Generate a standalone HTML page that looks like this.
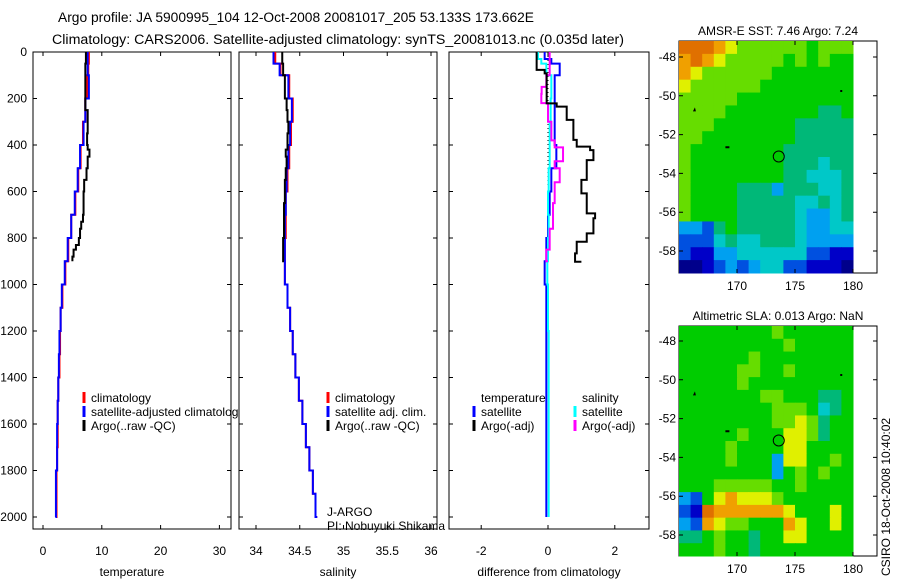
<!DOCTYPE html>
<html><head><meta charset="utf-8"><style>
html,body{margin:0;padding:0;background:#fff;}
svg{display:block;font-family:"Liberation Sans",sans-serif;}
</style></head><body>
<svg id="fig" width="900" height="580" viewBox="0 0 900 580" xmlns="http://www.w3.org/2000/svg">
<text x="58" y="22" font-size="13.5" textLength="476" lengthAdjust="spacingAndGlyphs">Argo profile: JA 5900995_104 12-Oct-2008 20081017_205 53.133S 173.662E</text>
<text x="52" y="44" font-size="13.5" textLength="572" lengthAdjust="spacingAndGlyphs">Climatology: CARS2006. Satellite-adjusted climatology: synTS_20081013.nc (0.035d later)</text>
<g id="plots"></g>
</svg>
<script>
// ---------- data ----------
const depthTicks = [0,200,400,600,800,1000,1200,1400,1600,1800,2000];
const tempTicks = [0,10,20,30];
const salTicks = [34,34.5,35,35.5,36];
const diffTicks = [-2,0,2];

const climDepths = [0,50,100,200,300,400,500,600,700,800,900,1000,1100,1200,1300,1400,1500,1600,1700,1800,1900,2000];
const tempClim = [7.8,7.7,7.5,7.2,6.8,6.4,6.0,5.5,4.8,4.3,3.8,3.3,3.0,2.9,2.8,2.6,2.5,2.5,2.4,2.3,2.3,2.2];
const tempSat  = [7.6,7.6,7.8,7.2,6.9,6.3,5.9,5.4,4.8,4.2,3.7,3.2,3.0,2.8,2.7,2.6,2.5,2.4,2.4,2.2,2.2,2.1];
const salClim  = [34.22,34.28,34.38,34.42,34.40,34.38,34.36,34.34,34.34,34.33,34.33,34.36,34.39,34.42,34.45,34.49,34.53,34.57,34.61,34.65,34.68,34.70];
const salSat   = [34.20,34.27,34.37,34.41,34.39,34.37,34.35,34.34,34.33,34.33,34.33,34.36,34.39,34.42,34.45,34.49,34.53,34.57,34.61,34.65,34.68,34.70];

const argoDepths = [0,50,100,200,250,300,350,400,420,450,500,550,600,650,700,730,760,800,830,850,880,900];
const argoTemp = [7.3,7.2,7.2,7.2,7.6,7.6,7.5,7.6,7.9,7.6,7.4,7.0,6.9,6.9,6.8,6.5,6.3,6.1,5.6,5.2,5.0,5.0];
const argoSal  = [34.30,34.31,34.33,34.35,34.36,34.37,34.36,34.36,34.34,34.35,34.34,34.33,34.33,34.32,34.32,34.32,34.32,34.31,34.31,34.31,34.31,34.32];

const diffDepths = [0,30,50,100,200,300,400,500,600,700,800,900,1000,1200,1500,1700,2000];
const diffTempSat = [-0.1,0.1,0.35,0.2,0.2,0.2,0.25,0.1,0.05,0.0,-0.05,-0.1,-0.05,-0.05,-0.05,-0.05,-0.05];
const diffSalSat  = [-0.3,-0.2,-0.05,0.1,0.08,0.05,0.05,0.02,0.0,0.02,0.0,-0.02,0.0,0.02,0.02,0.02,0.02];

const adjDepths = [0,77,92,221,235,292,378,407,422,465,550,608,694,715,780,816,866,902];
const diffTempArgo = [-0.34,-0.1,-0.04,0.26,0.56,0.76,0.86,1.26,1.36,1.16,1.0,1.16,1.41,1.36,1.16,0.86,0.81,1.0];
const salAdjDepths = [0,100,150,180,220,300,380,410,470,500,560,650,760,850,900];
const diffSalArgo = [0.05,-0.05,-0.19,-0.2,0.0,0.1,0.2,0.45,0.2,0.35,0.2,0.15,0.05,-0.05,0.0];

const lonTicks = [170,175,180];
const latTicks = [48,50,52,54,56,58];
// heatmap grids: digit codes, rows north->south, cols 165->180E
const sstGrid = ["aaa987777776777","9a9877777676766","987777776666666","877777766666666","777776666666666","777766666666556","777666666655555","776666666655555","766666666555555","766666666555455","766666666554445","766665553555445","766665555544545","766665555543345","332565555543344","222454455543333","211334444442211","001232344221110"];
const slaGrid = ["666666667666666","666666666766666","666666766666666","666667766766666","666667666666666","666666677666556","666666667776456","666666667787566","666667666887566","666676666886666","666676663886676","666666663676766","666777776676666","326898887666666","21a999999866686","329877666986686","556766566886666","666766566666666"];
const palette = {"0":"#00008b","1":"#0000c8","2":"#0050e0","3":"#00a0f0","4":"#00c8c8","5":"#00b878","6":"#00cc00","7":"#66dd00","8":"#e0f000","9":"#f0a000","a":"#e07000"};

// ---------- helpers ----------
const NS = "http://www.w3.org/2000/svg";
const root = document.getElementById('plots');
function mk(tag, attrs, parent){ const e=document.createElementNS(NS,tag); for(const k in attrs) e.setAttribute(k,attrs[k]); (parent||root).appendChild(e); return e; }
const sy = d => 52 + 0.2325*d;
const sx1 = v => 43 + 5.88*v;
const sx2 = v => 256 + 87.5*(v-34);
const sx3 = v => 548 + 33.4*v;
const TOP=52, BOT=529;

function panel(name, x0, x1, sx, ticks, label, showY){
  const r = mk('rect',{x:x0,y:TOP,width:x1-x0,height:BOT-TOP,fill:'#fff',stroke:'#000','stroke-width':1});
  
  
  depthTicks.forEach(d=>{
    const t = mk('path',{d:`M${x0},${sy(d)}h4M${x1},${sy(d)}h-4`,stroke:'#000'});
    
    
    if(showY){
      const l = mk('text',{x:x0-6,y:sy(d)+4,'font-size':12,'text-anchor':'end'});
      l.textContent = d;
      
      
    }
  });
  ticks.forEach(v=>{
    const t = mk('path',{d:`M${sx(v)},${BOT}v-4M${sx(v)},${TOP}v4`,stroke:'#000'});
    
    
    const l = mk('text',{x:sx(v),y:BOT+26,'font-size':12,'text-anchor':'middle'});
    l.textContent = v;
    
    
  });
  const al = mk('text',{x:(x0+x1)/2,y:576,'font-size':12,'text-anchor':'middle'});
  al.textContent = label;
  
  
}
function line(name, depths, vals, sx, color, extra){
  let d='';
  for(let i=0;i<depths.length;i++){
    const x=sx(vals[i]), y=sy(depths[i]);
    if(i===0) d+=`M${x},${y}`; else { d+=`V${y}H${x}`; }
  }
  const p = mk('path',Object.assign({d:d,fill:'none',stroke:color,'stroke-width':2},extra||{}));
  
  
}
function legend(name, x, y, color, text){
  const m = mk('path',{d:`M${x},${y-10}v11`,stroke:color,'stroke-width':3});
  
  
  if(text){
    const t = mk('text',{x:x+7,y:y,'font-size':12});
    t.textContent = text;
    
    
  }
}

// ---------- panel 1: temperature ----------
panel('temperature-panel',33,231,sx1,tempTicks,'temperature',true);
line('temp-climatology-line',climDepths,tempClim,sx1,'#f00');
line('temp-satellite-line',climDepths,tempSat,sx1,'#00f');
line('temp-argo-line',argoDepths,argoTemp,sx1,'#000');
legend('legend-climatology',84,402,'#f00','climatology');
legend('legend-sat-adj-climatology',84,416,'#00f','satellite-adjusted climatology');
legend('legend-argo-raw',84,430,'#000','Argo(..raw -QC)');

// ---------- panel 2: salinity ----------
panel('salinity-panel',239,437,sx2,salTicks,'salinity',false);
line('sal-climatology-line',climDepths,salClim,sx2,'#f00');
line('sal-satellite-line',climDepths,salSat,sx2,'#00f');
line('sal-argo-line',argoDepths,argoSal,sx2,'#000');
legend('legend-sal-climatology',328,402,'#f00','climatology');
legend('legend-sal-sat-adj',328,416,'#00f','satellite adj. clim.');
legend('legend-sal-argo',328,430,'#000','Argo(..raw -QC)');
const jt = mk('text',{x:327,y:516,'font-size':12}); jt.textContent='J-ARGO';



// ---------- panel 3: difference ----------
panel('difference-panel',449,649,sx3,diffTicks,'difference from climatology',false);
const zl = mk('path',{d:`M${sx3(0)},${sy(0)}V${sy(580)}`,stroke:'#000','stroke-dasharray':'1,3'});


line('diff-temp-satellite-line',diffDepths,diffTempSat,sx3,'#00f');
line('diff-sal-satellite-line',diffDepths,diffSalSat,sx3,'#0ff');
line('diff-sal-argo-line',salAdjDepths,diffSalArgo,sx3,'#f0f');
line('diff-temp-argo-line',adjDepths,diffTempArgo,sx3,'#000');
const pi = mk('text',{x:327,y:530,'font-size':12}); pi.textContent='PI: Nobuyuki Shikama';


const lt = mk('text',{x:481,y:402,'font-size':12}); lt.textContent='temperature';


const ls = mk('text',{x:582,y:402,'font-size':12}); ls.textContent='salinity';


legend('legend-diff-temp-sat',474,416,'#00f','satellite');
legend('legend-diff-temp-argo',474,430,'#000','Argo(-adj)');
legend('legend-diff-sal-sat',575,416,'#0ff','satellite');
legend('legend-diff-sal-argo',575,430,'#f0f','Argo(-adj)');

// ---------- maps ----------
function map(name, top, bottom, lat48y, grid, title){
  const cw = 174/15, ch = (bottom-top)/grid.length;
  const fr = mk('rect',{x:679,y:top,width:198,height:bottom-top,fill:'#fff',stroke:'#000'});
  
  
  grid.forEach((row,r)=>{
    for(let c=0;c<row.length;c++){
      const cell = mk('rect',{x:679+c*cw,y:top+r*ch,width:cw+0.5,height:ch+0.5,fill:palette[row[c]]});
      
      
    }
  });
  const lx = v => 737 + (v-170)*11.6;
  const ly = v => lat48y + (v-48)*19.4;
  lonTicks.forEach(v=>{
    const t = mk('path',{d:`M${lx(v)},${top}v4M${lx(v)},${bottom}v-4`,stroke:'#000'});
    
    
    const l = mk('text',{x:lx(v),y:bottom+17,'font-size':12,'text-anchor':'middle'});
    l.textContent = v;
    
    
  });
  latTicks.forEach(v=>{
    const t = mk('path',{d:`M679,${ly(v)}h4M877,${ly(v)}h-4`,stroke:'#000'});
    
    
    const l = mk('text',{x:676,y:ly(v)+4,'font-size':12,'text-anchor':'end'});
    l.textContent = '-'+v;
    
    
  });
  const ci = mk('circle',{cx:lx(173.6),cy:ly(53.13),r:5.5,fill:'none',stroke:'#000'});
  
  
  const isl = mk('path',{d:`M${lx(166.2)},${ly(50.8)}l2,-4l1,4zM${lx(169)},${ly(52.6)}h4v2h-4zM${lx(178.9)},${ly(49.7)}h2v2h-2z`,fill:'#000'});
  
  
  const tt = mk('text',{x:778,y:top-6,'font-size':12,'text-anchor':'middle'});
  tt.textContent = title;
  
  
}
map('sst-map',41,273,57,sstGrid,'AMSR-E SST: 7.46 Argo: 7.24');
map('sla-map',326,556,341,slaGrid,'Altimetric SLA: 0.013 Argo: NaN');
const cs = mk('text',{x:0,y:0,'font-size':12,transform:'translate(890,576) rotate(-90)'});
cs.textContent = 'CSIRO 18-Oct-2008 10:40:02';


</script>
</body></html>
